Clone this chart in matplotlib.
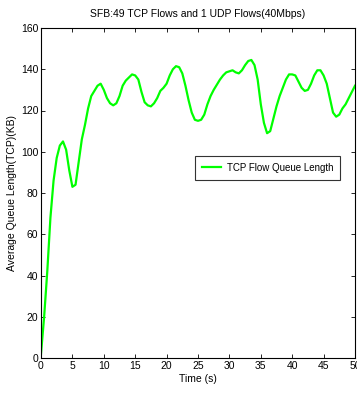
import matplotlib
matplotlib.use("Agg")
import matplotlib.pyplot as plt
import numpy as np

time_s = [0, 0.5, 1, 1.5, 2, 2.5, 3, 3.5, 4, 4.5, 5, 5.5, 6, 6.5, 7, 7.5, 8, 8.5, 9, 9.5,
          10, 10.5, 11, 11.5, 12, 12.5, 13, 13.5, 14, 14.5, 15, 15.5, 16, 16.5, 17, 17.5,
          18, 18.5, 19, 19.5, 20, 20.5, 21, 21.5, 22, 22.5, 23, 23.5, 24, 24.5, 25, 25.5,
          26, 26.5, 27, 27.5, 28, 28.5, 29, 29.5, 30, 30.5, 31, 31.5, 32, 32.5, 33, 33.5,
          34, 34.5, 35, 35.5, 36, 36.5, 37, 37.5, 38, 38.5, 39, 39.5, 40, 40.5, 41, 41.5,
          42, 42.5, 43, 43.5, 44, 44.5, 45, 45.5, 46, 46.5, 47, 47.5, 48, 48.5, 49, 49.5, 50]
queue_kb = [2, 20, 42, 68, 86, 97, 103, 105, 101, 91, 83, 84, 95, 106, 113, 121, 127, 129.5, 132, 133,
            130, 126, 123.5, 122.5, 123.5, 127, 132, 134.5, 136, 137.5, 137, 135, 129, 124, 122.5, 122,
            123.5, 126, 129.5, 131, 133, 137, 140, 141.5, 141, 138, 132, 125, 119, 115.5, 115, 115.5,
            118, 123, 127, 130, 132.5, 135, 137, 138.5, 139, 139.5, 138.5, 138, 139.5, 142, 144, 144.5,
            142, 135, 123, 114, 109, 110, 116, 122, 127, 131, 135, 137.5, 137.5, 137, 134, 131,
            129.5, 130, 133, 137, 139.5, 139.5, 137, 133, 126, 119, 117, 118, 121, 123, 126, 129, 132]

xticks = [0, 5, 10, 15, 20, 25, 30, 35, 40, 45, 50]
yticks = [0, 20, 40, 60, 80, 100, 120, 140, 160]

plt.rcParams['font.family'] = ['Liberation Sans', 'DejaVu Sans']
fig = plt.figure(figsize=(3.57, 3.95), dpi=100)
ax = fig.add_axes([41/357, 37/395, 314/357, 330/395])
ax.plot(time_s, queue_kb, color='#00ff00', lw=1.6, label='TCP Flow Queue Length')
ax.set_xlim(0, 50)
ax.set_ylim(0, 160)
ax.set_xticks(xticks)
ax.set_yticks(yticks)
ax.tick_params(direction='in', top=True, right=True, labelsize=7.5, length=3, width=0.6, pad=2)
for s in ax.spines.values():
    s.set_linewidth(0.8)
ax.set_xlabel('Time (s)', fontsize=7.5, labelpad=2)
ax.set_ylabel('Average Queue Length(TCP)(KB)', fontsize=7.5, labelpad=3)
ax.set_title('SFB:49 TCP Flows and 1 UDP Flows(40Mbps)', fontsize=7.5, pad=8)
leg = ax.legend(loc='upper left', bbox_to_anchor=((195-41)/314, (358-156)/330), fontsize=7,
                fancybox=False, edgecolor='#333333', framealpha=1, handlelength=2.0,
                borderpad=0.7, borderaxespad=0, handletextpad=0.6)
leg.get_frame().set_linewidth(0.8)
fig.savefig('out.png', dpi=100)
